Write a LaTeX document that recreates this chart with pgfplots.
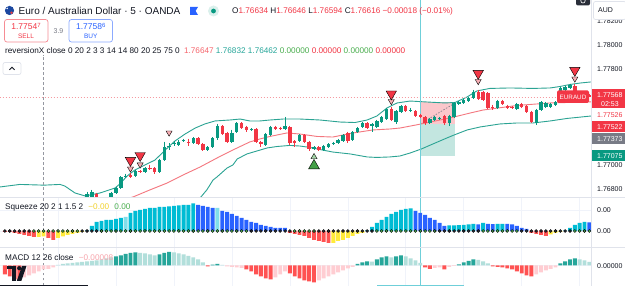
\documentclass[border=0pt]{standalone}
\usepackage{pgfplots}
\pgfplotsset{compat=1.18}
\usepackage{pgfplotstable}
\usepgfplotslibrary{fillbetween}
\usepackage{fontspec}
\setmainfont{Liberation Sans}

\definecolor{tvred}{HTML}{F23645}
\definecolor{tvgreen}{HTML}{089981}
\definecolor{tvblue}{HTML}{2962FF}
\definecolor{tvgray}{HTML}{787B86}
\definecolor{txt}{HTML}{131722}
\definecolor{gridc}{HTML}{F0F3FA}
\definecolor{sepc}{HTML}{E0E3EB}
\definecolor{bbline}{HTML}{2BA393}
\definecolor{bbfill}{HTML}{E3F3F1}
\definecolor{basisc}{HTML}{F4777F}
\definecolor{sqcyan}{HTML}{00BCD4}
\definecolor{sqlcyan}{HTML}{80DEEA}
\definecolor{sqblue}{HTML}{2962FF}
\definecolor{sqred}{HTML}{FF5252}
\definecolor{sqyellow}{HTML}{FFEB3B}
\definecolor{sqytext}{HTML}{F2D22E}
\definecolor{dotblack}{HTML}{2A2E39}
\definecolor{dotgreen}{HTML}{4CAF50}
\definecolor{mdark}{HTML}{26A69A}
\definecolor{mlight}{HTML}{B2DFDB}
\definecolor{mred}{HTML}{FF5252}
\definecolor{mpink}{HTML}{FFCDD2}
\definecolor{mpinktext}{HTML}{F7A6AD}
\definecolor{vteal}{HTML}{6FCFD9}
\definecolor{xhair}{HTML}{9598A1}
\definecolor{pricedash}{HTML}{F59AA1}
\definecolor{pinkfaint}{HTML}{F8AEB4}
\definecolor{greenfaint}{HTML}{A5D6A7}
\definecolor{siggreen}{HTML}{43A047}
\definecolor{bbtxt}{HTML}{26A69A}
\definecolor{flagblue}{HTML}{1C48A0}
\definecolor{flagred}{HTML}{DC3C46}
\definecolor{ringgreen}{HTML}{DAF0EC}
\definecolor{sellborder}{HTML}{F68C94}
\definecolor{buyborder}{HTML}{8CAAFF}
\definecolor{darkbtn}{HTML}{2A2E39}

\newcommand{\fs}[1]{\fontsize{#1}{#1}\selectfont}

% EURAUD 5-minute candles: index, open, high, low, close
\pgfplotstableread{
i o h l c
17 1.76733 1.76775 1.76717 1.76758
18 1.76733 1.76792 1.76725 1.76775
22 1.76733 1.76775 1.76717 1.76767
23 1.76767 1.76817 1.76758 1.76808
24 1.76808 1.76908 1.76800 1.76900
25 1.76900 1.76925 1.76892 1.76908
27 1.76908 1.76958 1.76900 1.76950
29 1.76942 1.76983 1.76933 1.76975
32 1.76942 1.77050 1.76933 1.77042
33 1.77042 1.77192 1.77033 1.77150
34 1.77150 1.77183 1.77125 1.77158
35 1.77179 1.77200 1.77158 1.77183
36 1.77167 1.77208 1.77158 1.77192
37 1.77200 1.77217 1.77192 1.77208
39 1.77183 1.77233 1.77175 1.77225
42 1.77125 1.77158 1.77117 1.77150
43 1.77150 1.77233 1.77142 1.77225
44 1.77225 1.77342 1.77208 1.77325
47 1.77192 1.77292 1.77183 1.77267
48 1.77275 1.77358 1.77267 1.77350
51 1.77296 1.77308 1.77283 1.77300
54 1.77167 1.77267 1.77158 1.77258
55 1.77250 1.77325 1.77242 1.77317
58 1.77300 1.77400 1.77292 1.77325
61 1.77200 1.77258 1.77192 1.77250
64 1.77133 1.77158 1.77125 1.77150
66 1.77125 1.77167 1.77117 1.77158
67 1.77150 1.77183 1.77142 1.77175
68 1.77179 1.77192 1.77167 1.77183
69 1.77183 1.77217 1.77175 1.77208
70 1.77200 1.77258 1.77192 1.77250
72 1.77208 1.77283 1.77200 1.77275
73 1.77275 1.77317 1.77267 1.77308
74 1.77317 1.77358 1.77308 1.77350
76 1.77325 1.77350 1.77275 1.77342
77 1.77317 1.77375 1.77308 1.77367
78 1.77358 1.77408 1.77350 1.77400
79 1.77383 1.77475 1.77375 1.77467
81 1.77358 1.77458 1.77342 1.77450
82 1.77442 1.77500 1.77433 1.77492
84 1.77454 1.77475 1.77442 1.77458
88 1.77350 1.77392 1.77342 1.77383
89 1.77375 1.77408 1.77367 1.77400
90 1.77388 1.77400 1.77375 1.77392
92 1.77350 1.77417 1.77325 1.77408
93 1.77400 1.77525 1.77392 1.77517
94 1.77508 1.77533 1.77500 1.77525
95 1.77517 1.77550 1.77508 1.77542
96 1.77533 1.77567 1.77525 1.77558
97 1.77558 1.77625 1.77550 1.77608
102 1.77475 1.77542 1.77467 1.77533
106 1.77467 1.77517 1.77458 1.77508
110 1.77350 1.77467 1.77333 1.77458
111 1.77458 1.77533 1.77450 1.77525
112 1.77483 1.77525 1.77475 1.77517
113 1.77483 1.77517 1.77475 1.77508
114 1.77500 1.77533 1.77492 1.77525
115 1.77525 1.77650 1.77517 1.77642
116 1.77625 1.77658 1.77617 1.77650
117 1.77642 1.77675 1.77633 1.77667
120 1.77567 1.77592 1.77558 1.77583
}\greencandles

\pgfplotstableread{
i o h l c
19 1.76758 1.76767 1.76717 1.76725
26 1.76917 1.76933 1.76892 1.76904
28 1.76950 1.76958 1.76933 1.76942
30 1.76975 1.77000 1.76958 1.76967
31 1.76975 1.76983 1.76925 1.76942
38 1.77192 1.77217 1.77158 1.77183
40 1.77225 1.77233 1.77167 1.77175
41 1.77175 1.77183 1.77117 1.77125
45 1.77325 1.77333 1.77250 1.77258
46 1.77267 1.77275 1.77183 1.77192
49 1.77350 1.77358 1.77300 1.77308
50 1.77317 1.77325 1.77275 1.77292
52 1.77300 1.77308 1.77183 1.77192
53 1.77192 1.77200 1.77150 1.77175
56 1.77317 1.77325 1.77292 1.77300
57 1.77308 1.77317 1.77292 1.77296
59 1.77317 1.77325 1.77167 1.77183
60 1.77200 1.77208 1.77150 1.77183
62 1.77250 1.77258 1.77183 1.77192
63 1.77192 1.77200 1.77117 1.77133
65 1.77150 1.77158 1.77117 1.77125
71 1.77267 1.77275 1.77183 1.77200
75 1.77350 1.77358 1.77300 1.77308
80 1.77467 1.77483 1.77367 1.77375
83 1.77492 1.77500 1.77442 1.77450
85 1.77450 1.77458 1.77400 1.77408
86 1.77417 1.77425 1.77392 1.77400
87 1.77400 1.77408 1.77333 1.77350
91 1.77408 1.77417 1.77333 1.77350
98 1.77608 1.77625 1.77542 1.77550
99 1.77608 1.77617 1.77533 1.77542
100 1.77600 1.77608 1.77467 1.77475
101 1.77483 1.77500 1.77458 1.77475
103 1.77533 1.77542 1.77500 1.77508
104 1.77492 1.77500 1.77467 1.77475
105 1.77483 1.77492 1.77467 1.77475
107 1.77508 1.77517 1.77475 1.77483
108 1.77492 1.77500 1.77433 1.77442
109 1.77442 1.77450 1.77350 1.77358
118 1.77658 1.77675 1.77583 1.77592
119 1.77592 1.77608 1.77558 1.77567
121 1.77583 1.77592 1.77567 1.77568
}\redcandles

% reversionX bands
\pgfplotstableread{
i v
-1.0 1.76817
3.1 1.76838
8.1 1.76832
11.4 1.76838
12.4 1.76825
14.5 1.76767
16.6 1.76742
19.7 1.76767
22.8 1.76808
23.8 1.76842
25.3 1.76908
26.9 1.76958
29.0 1.77000
31.1 1.77042
33.2 1.77125
35.2 1.77200
37.3 1.77258
39.4 1.77308
41.4 1.77342
43.5 1.77367
46.6 1.77375
48.7 1.77383
50.7 1.77367
52.8 1.77367
54.9 1.77375
57.6 1.77383
61.1 1.77383
65.2 1.77375
69.4 1.77358
72.5 1.77354
75.0 1.77375
77.0 1.77408
79.1 1.77475
81.2 1.77517
83.9 1.77533
87.4 1.77525
91.1 1.77517
93.2 1.77521
95.7 1.77567
97.7 1.77617
100.4 1.77638
104.6 1.77642
109.3 1.77638
112.9 1.77642
114.9 1.77654
117.0 1.77671
119.1 1.77683
121.3 1.77692
}\upperband

\pgfplotstableread{
i v
-1.0 1.76475
8.1 1.76462
19.7 1.76442
30.0 1.76500
36.0 1.76580
39.4 1.76667
40.4 1.76725
41.8 1.76792
43.1 1.76875
43.9 1.76900
46.0 1.76975
47.2 1.77000
48.1 1.77050
50.1 1.77092
52.2 1.77117
54.3 1.77142
56.3 1.77154
59.0 1.77163
61.1 1.77158
63.2 1.77146
65.2 1.77129
67.9 1.77108
71.5 1.77092
75.0 1.77067
77.0 1.77063
79.7 1.77067
81.8 1.77075
83.9 1.77100
86.2 1.77133
88.6 1.77175
91.5 1.77225
93.0 1.77250
95.7 1.77292
98.4 1.77317
102.5 1.77342
106.0 1.77350
109.3 1.77350
112.9 1.77367
116.4 1.77388
121.3 1.77408
}\lowerband

\pgfplotstableread{
i v
-1.0 1.76642
8.1 1.76647
19.7 1.76667
26.5 1.76733
30.0 1.76792
33.6 1.76850
36.9 1.76917
40.4 1.76983
43.9 1.77058
47.2 1.77125
50.7 1.77192
52.8 1.77217
54.9 1.77238
58.4 1.77267
61.1 1.77258
64.6 1.77238
67.9 1.77233
72.1 1.77267
76.2 1.77292
79.7 1.77300
81.8 1.77308
86.2 1.77342
90.1 1.77375
93.0 1.77400
96.3 1.77433
99.0 1.77458
106.0 1.77496
112.9 1.77517
121.3 1.77526
}\basisline

% Squeeze momentum histogram, split by colour
\pgfplotstableread{
i v
17 0.00005
18 0.0005
19 0.0009
20 0.0010
21 0.0011
22 0.0011
23 0.0012
24 0.0013
26 0.0018
27 0.0020
28 0.0021
29 0.0022
30 0.0023
31 0.0023
32 0.0024
33 0.0024
34 0.00245
35 0.0025
36 0.00255
37 0.0026
38 0.0026
39 0.00275
75 0.00005
76 0.0004
77 0.0008
78 0.0011
79 0.0014
80 0.0017
81 0.0019
82 0.0021
83 0.0022
84 0.00225
92 0.00055
93 0.00057
94 0.00058
95 0.0006
96 0.00065
97 0.0007
99 0.0008
102 0.0007
103 0.00072
116 0.00003
117 0.0003
118 0.0006
119 0.0008
120 0.0009
}\sqcyanT

\pgfplotstableread{
i v
25 0.0014
44 0.00232
}\sqlcyanT

\pgfplotstableread{
i v
40 0.0026
41 0.0025
42 0.0024
43 0.0023
45 0.0020
46 0.0019
47 0.0017
48 0.0015
49 0.0013
50 0.0011
51 0.0009
52 0.0008
53 0.0006
54 0.0005
55 0.0004
56 0.0003
57 0.0003
58 0.0003
85 0.0020
86 0.0018
87 0.0016
88 0.0013
89 0.0011
90 0.0008
91 0.0005
98 0.00065
100 0.0007
101 0.00068
104 0.0007
105 0.00065
106 0.0005
107 0.0003
108 0.0002
121 0.00087
}\sqblueT

\pgfplotstableread{
i v
0 -0.0001
1 -0.0001
2 -0.0002
3 -0.0003
4 -0.0004
5 -0.0005
6 -0.0006
9 -0.0007
10 -0.0009
59 -0.0002
60 -0.0003
61 -0.0004
62 -0.0005
63 -0.0007
64 -0.0009
65 -0.0010
66 -0.0011
67 -0.0012
109 -0.0002
110 -0.0003
111 -0.0004
112 -0.0005
}\sqredT

\pgfplotstableread{
i v
7 -0.0006
8 -0.00055
11 -0.0007
12 -0.00055
13 -0.0004
14 -0.0003
15 -0.0002
16 -0.0001
68 -0.00118
69 -0.0010
70 -0.0009
71 -0.0007
72 -0.0005
73 -0.0003
74 -0.0002
113 -0.00035
114 -0.0002
115 -0.0001
}\sqyellowT

% MACD histogram, split by colour
\pgfplotstableread{
i v
23 0.00018
24 0.00020
25 0.00023
26 0.00025
27 0.00026
32 0.00022
33 0.00025
34 0.00027
43 0.000016
44 0.00003
73 0.00003
74 0.00006
75 0.00008
77 0.00012
78 0.00016
79 0.00018
81 0.00018
82 0.00020
94 0.00002
95 0.00006
96 0.00009
97 0.00012
115 0.00004
116 0.00008
117 0.00012
118 0.00014
}\mdarkT

\pgfplotstableread{
i v
11 0.00001
12 0.00003
13 0.00004
14 0.00005
15 0.00006
16 0.00007
17 0.00008
18 0.00009
19 0.00010
20 0.00012
21 0.00014
22 0.00016
28 0.00025
29 0.00024
30 0.00022
31 0.00020
35 0.00026
36 0.00024
37 0.00022
38 0.00019
39 0.00016
40 0.00012
41 0.00006
45 0.00001
76 0.000076
80 0.00016
83 0.00018
84 0.00014
85 0.00010
86 0.00005
98 0.00011
99 0.00008
100 0.00004
119 0.00012
120 0.00010
121 0.00007
}\mlightT

\pgfplotstableread{
i v
0 -0.00018
1 -0.00022
2 -0.00028
3 -0.00030
42 -0.00002
50 -0.00008
51 -0.00012
52 -0.00018
53 -0.00022
54 -0.00026
55 -0.00028
59 -0.00016
60 -0.00022
61 -0.00026
62 -0.00030
63 -0.00032
64 -0.00034
87 -0.00004
88 -0.00007
91 -0.00008
101 -0.00002
102 -0.00003
103 -0.00004
104 -0.00006
105 -0.00008
106 -0.00012
107 -0.00016
108 -0.00020
109 -0.00022
}\mredT

\pgfplotstableread{
i v
4 -0.00024
5 -0.00020
6 -0.00016
7 -0.00012
8 -0.00008
9 -0.00007
10 -0.00004
46 -0.00002
47 -0.00003
48 -0.00004
49 -0.00005
56 -0.00024
57 -0.00018
58 -0.00012
65 -0.00030
66 -0.00026
67 -0.00022
68 -0.00018
69 -0.00014
70 -0.00010
71 -0.00006
72 -0.00003
89 -0.00005
90 -0.00004
92 -0.00003
93 -0.00001
110 -0.00018
111 -0.00014
112 -0.00010
113 -0.00007
114 -0.00004
}\mpinkT

\pgfplotsset{
  tvpane/.style={
    scale only axis, width=591pt,
    xmin=-1.0145, xmax=121.346,
    axis line style={draw=none}, tick style={draw=none},
    xtick={11,23,...,119}, xticklabels={}, yticklabels={},
    scaled y ticks=false, scaled x ticks=false,
    grid=major, major grid style={draw=gridc, line width=0.6pt},
    clip=true},
  candlewick/.style={only marks, mark=*, mark size=0pt, mark options={draw=none, fill=none},
    error bars/.cd, y dir=minus, y explicit, error mark=none,
    error bar style={line width=0.9pt, draw=#1}},
  candlebody/.style={only marks, mark=*, mark size=0pt, mark options={draw=none, fill=none},
    error bars/.cd, y dir=minus, y explicit, error mark=none,
    error bar style={line width=3.4pt, draw=#1}},
  histbar/.style={ybar, bar width=3.9pt, bar shift=0pt, draw=none, fill=#1},
}

\begin{document}
\begin{tikzpicture}
\fill[white] (0,0) rectangle (625pt,286pt);

% ---------- price pane ----------
\begin{axis}[tvpane, at={(0pt,89pt)}, anchor=south west, height=197pt,
  ymin=1.767333, ymax=1.78375,
  ytick={1.768,1.770,1.772,1.774,1.776,1.778,1.780,1.782}]
  \addplot[name path=up, draw=none, forget plot] table[x=i,y=v]{\upperband};
  \addplot[name path=lo, draw=none, forget plot] table[x=i,y=v]{\lowerband};
  \addplot[bbfill, draw=none] fill between[of=up and lo];
  % position tool
  \addplot[fill=tvred, fill opacity=0.28, draw=none] coordinates {(86,1.77522) (93.2,1.77522) (93.2,1.77342) (86,1.77342)} -- cycle;
  \addplot[fill=tvgreen, fill opacity=0.24, draw=none] coordinates {(86,1.77342) (93.2,1.77342) (93.2,1.77075) (86,1.77075)} -- cycle;
  \addplot[tvgray, line width=0.6pt, dash pattern=on 1.5pt off 1.5pt] coordinates {(86,1.77342) (93.2,1.77517)};
  % bands
  \addplot[bbline, line width=0.9pt] table[x=i,y=v]{\upperband};
  \addplot[bbline, line width=0.9pt] table[x=i,y=v]{\lowerband};
  \addplot[basisc, line width=0.9pt] table[x=i,y=v]{\basisline};
  % last price line
  \addplot[pricedash, line width=0.6pt, dash pattern=on 1.5pt off 1.5pt] coordinates {(-1.1,1.77568) (121.4,1.77568)};
  % vertical marker and crosshair
  \addplot[vteal, line width=0.8pt] coordinates {(86,1.760) (86,1.790)};
  \addplot[xhair, line width=0.6pt, dash pattern=on 2.5pt off 2.5pt] coordinates {(8,1.760) (8,1.77917)};
  % candles
  \addplot[candlewick=tvgreen] table[x=i, y=h, y error minus expr=\thisrow{h}-\thisrow{l}]{\greencandles};
  \addplot[candlewick=tvred] table[x=i, y=h, y error minus expr=\thisrow{h}-\thisrow{l}]{\redcandles};
  \addplot[candlebody=tvgreen] table[x=i, y=c, y error minus expr=\thisrow{c}-\thisrow{o}]{\greencandles};
  \addplot[candlebody=tvred] table[x=i, y=o, y error minus expr=\thisrow{o}-\thisrow{c}]{\redcandles};
  % signals
  \addplot[only marks, mark=triangle*, mark size=3.5pt, mark options={rotate=180, fill=pinkfaint, draw=none}]
    coordinates {(26,1.76969) (28,1.77003) (34,1.77269) (80,1.77531) (98,1.77698) (118,1.77719)};
  \addplot[only marks, mark=triangle*, mark size=6pt, mark options={rotate=180, fill=tvred, draw=none}]
    coordinates {(26,1.77038) (28,1.77079) (80,1.77592) (98,1.77763) (118,1.77788)};
  \addplot[only marks, mark=triangle*, mark size=3.5pt, mark options={fill=greenfaint, draw=none}]
    coordinates {(64,1.77067)};
  \addplot[only marks, mark=triangle*, mark size=6.3pt, mark options={fill=siggreen, draw=none}]
    coordinates {(64,1.76994)};
\end{axis}

% ---------- squeeze pane ----------
\begin{axis}[tvpane, at={(0pt,39pt)}, anchor=south west, height=49pt,
  ymin=-0.0016, ymax=0.0033, ytick={0,0.0021}]
  \addplot[vteal, line width=0.8pt] coordinates {(86,-0.01) (86,0.01)};
  \addplot[xhair, line width=0.6pt, dash pattern=on 2.5pt off 2.5pt] coordinates {(8,-0.01) (8,0.01)};
  \addplot[histbar=sqcyan] table[x=i,y=v]{\sqcyanT};
  \addplot[histbar=sqlcyan] table[x=i,y=v]{\sqlcyanT};
  \addplot[histbar=sqblue] table[x=i,y=v]{\sqblueT};
  \addplot[histbar=sqred] table[x=i,y=v]{\sqredT};
  \addplot[histbar=sqyellow] table[x=i,y=v]{\sqyellowT};
  \addplot[only marks, mark=*, mark size=1.5pt, mark options={fill=dotblack, draw=none}] coordinates {
    (0,0) (1,0) (2,0) (3,0) (4,0) (5,0) (16,0) (17,0) (18,0) (19,0)
    (51,0) (52,0) (53,0) (54,0) (55,0) (56,0) (57,0) (58,0) (59,0)
    (65,0) (66,0) (67,0) (68,0) (69,0) (70,0) (71,0) (72,0) (73,0) (74,0) (75,0) (76,0)
    (90,0) (91,0) (92,0) (93,0) (94,0) (95,0) (96,0) (97,0) (98,0)
    (107,0) (108,0) (109,0) (110,0) (111,0) (112,0) (113,0) (114,0) (115,0) (116,0) (117,0)};
  \addplot[only marks, mark=*, mark size=1.5pt, mark options={fill=dotgreen, draw=none}] coordinates {
    (6,0) (7,0) (8,0) (9,0) (10,0) (11,0) (12,0) (13,0) (14,0) (15,0)
    (20,0) (21,0) (22,0) (23,0) (24,0) (25,0) (26,0) (27,0) (28,0) (29,0) (30,0)
    (31,0) (32,0) (33,0) (34,0) (35,0) (36,0) (37,0) (38,0) (39,0) (40,0)
    (41,0) (42,0) (43,0) (44,0) (45,0) (46,0) (47,0) (48,0) (49,0) (50,0)
    (60,0) (61,0) (62,0) (63,0) (64,0)
    (77,0) (78,0) (79,0) (80,0) (81,0) (82,0) (83,0) (84,0) (85,0) (86,0) (87,0) (88,0) (89,0)
    (99,0) (100,0) (101,0) (102,0) (103,0) (104,0) (105,0) (106,0)
    (118,0) (119,0) (120,0) (121,0)};
\end{axis}

% ---------- MACD pane ----------
\begin{axis}[tvpane, at={(0pt,0pt)}, anchor=south west, height=39pt,
  ymin=-0.00041, ymax=0.00037, ytick={0}]
  \addplot[vteal, line width=0.8pt] coordinates {(86,-0.01) (86,0.01)};
  \addplot[xhair, line width=0.6pt, dash pattern=on 2.5pt off 2.5pt] coordinates {(8,-0.01) (8,0.01)};
  \addplot[histbar=mdark] table[x=i,y=v]{\mdarkT};
  \addplot[histbar=mlight] table[x=i,y=v]{\mlightT};
  \addplot[histbar=mred] table[x=i,y=v]{\mredT};
  \addplot[histbar=mpink] table[x=i,y=v]{\mpinkT};
\end{axis}

% ---------- chrome: legends, price scale, labels ----------
\begin{scope}[shift={(0pt,286pt)}, x=1pt, y=-1pt]
  \draw[sepc, line width=0.8pt] (0,197.5) -- (625,197.5);
  \draw[sepc, line width=0.8pt] (0,247.5) -- (625,247.5);
  \draw[sepc, line width=0.8pt] (591,0) -- (591,286);
  \fill[txt] (0,284.8) rectangle (88,286);
  \fill[vteal] (377,284.8) rectangle (464,286);

  % symbol header
  \fill[flagblue] (9.5,10.5) circle (4.6);
  \fill[flagred] (11.5,12.8) circle (1.4);
  \fill[white] (7.2,8.4) circle (0.9);
  \node[anchor=west, inner sep=0, font=\fs{10}, text=txt] at (18.5,11) {Euro / Australian Dollar · 5 · OANDA};
  \fill[tvblue] (190,7) -- (198,7) -- (195.6,11) -- (198,15) -- (190,15) -- cycle;
  \fill[ringgreen] (213.5,11) circle (5.5);
  \fill[tvgreen] (213.5,11) circle (2.4);
  \node[anchor=west, inner sep=0, font=\fs{8.2}, text=txt] at (232,11)
    {O\textcolor{tvred}{1.76634} H\textcolor{tvred}{1.76646} L\textcolor{tvred}{1.76594} C\textcolor{tvred}{1.76616} \textcolor{tvred}{−0.00018 (−0.01\%)}};

  % sell / buy
  \draw[sellborder, line width=0.7pt, fill=white, rounded corners=2.5pt] (4.5,19.5) rectangle (48,42);
  \node[font=\fs{8.5}, text=tvred, inner sep=0] at (26,26.5) {1.7754\raisebox{1.8pt}{\fs{6}7}};
  \node[font=\fs{6.5}, text=tvred, inner sep=0] at (26,36) {SELL};
  \node[font=\fs{7}, text=tvgray, inner sep=0] at (58.5,31) {3.9};
  \draw[buyborder, line width=0.7pt, fill=white, rounded corners=2.5pt] (69,19.5) rectangle (112.5,42);
  \node[font=\fs{8.5}, text=tvblue, inner sep=0] at (90.7,26.5) {1.7758\raisebox{1.8pt}{\fs{6}6}};
  \node[font=\fs{6.5}, text=tvblue, inner sep=0] at (90.7,36) {BUY};

  % indicator legends
  \node[anchor=west, inner sep=0, font=\fs{8.2}, text=txt] at (5,51)
    {reversionX close 0 20 2 3 3 14 14 80 20 25 75 0\hspace{2pt} \textcolor{basisc!85!red}{1.76647} \textcolor{bbtxt}{1.76832} \textcolor{bbtxt}{1.76462} \textcolor{dotgreen}{0.00000} \textcolor{tvred}{0.00000} \textcolor{dotgreen}{0.00000} \textcolor{tvred}{0.00000}};
  \draw[sepc, line width=0.7pt, fill=white, rounded corners=2pt] (3,62.5) rectangle (21,74.5);
  \draw[txt, line width=0.9pt] (9.5,69.8) -- (12,67.3) -- (14.5,69.8);
  \node[anchor=west, inner sep=0, font=\fs{8.2}, text=txt] at (5,207)
    {Squeeze 20 2 1 1.5 2\hspace{3pt} \textcolor{sqytext}{−0.00}\hspace{3pt} \textcolor{dotgreen}{0.00}};
  \node[anchor=west, inner sep=0, font=\fs{8.2}, text=txt] at (5,258)
    {MACD 12 26 close\hspace{3pt} \textcolor{mpinktext}{−0.00008}};

  % price scale
  \foreach \yy/\lab in {21.5/1.78200, 45/1.78000, 69/1.77800, 165/1.77000, 189/1.76800}
    \node[anchor=west, inner sep=0, font=\fs{7}, text=txt] at (597,\yy) {\lab};
  \draw[sepc, line width=0.7pt, fill=white, rounded corners=2pt] (593.5,1.5) rectangle (626,19.5);
  \node[anchor=west, inner sep=0, font=\fs{7}, text=txt] at (598,10.5) {AUD};
  \fill[darkbtn, rounded corners=2pt] (576,-4) rectangle (590,5.5);
  \draw[white, line width=0.6pt] (583,0.8) circle (2.2);

  \fill[tvred, rounded corners=1.5pt] (557,90.5) rectangle (589,103);
  \node[font=\fs{6.3}, text=white, inner sep=0] at (573,96.9) {EURAUD};
  \fill[tvred] (591.5,89.5) rectangle (625,108.5);
  \node[anchor=west, inner sep=0, font=\fs{7}, text=white] at (597,95.5) {1.77568};
  \node[anchor=west, inner sep=0, font=\fs{7}, text=white] at (601,103.8) {02:53};
  \fill[white] (591.5,110) rectangle (625,120.5);
  \node[anchor=west, inner sep=0, font=\fs{7}, text=tvred] at (597,115.3) {1.77526};
  \fill[tvred] (591.5,121.5) rectangle (625,132.5);
  \node[anchor=west, inner sep=0, font=\fs{7}, text=white] at (597,127) {1.77522};
  \fill[tvgray] (591.5,133.5) rectangle (625,144.5);
  \node[anchor=west, inner sep=0, font=\fs{7}, text=white] at (597,139) {1.77373};
  \fill[tvgreen] (591.5,150.5) rectangle (625,161.5);
  \node[anchor=west, inner sep=0, font=\fs{7}, text=white] at (597,156) {1.77075};

  \node[anchor=west, inner sep=0, font=\fs{7}, text=txt] at (597,210) {0.00};
  \node[anchor=west, inner sep=0, font=\fs{7}, text=txt] at (597,231) {0.00};
  \node[anchor=west, inner sep=0, font=\fs{7}, text=txt] at (597,266) {0.00000};

  % watermark logo
  \fill[txt] (7,266) rectangle (16,269.5);
  \fill[txt] (12.3,266) rectangle (16,281);
  \fill[txt] (19.2,268.2) circle (2.1);
  \fill[txt] (22,266) -- (26.5,266) -- (21.3,281) -- (16.8,281) -- cycle;
\end{scope}
\pgfresetboundingbox
\useasboundingbox (0,0) rectangle (625pt,286pt);
\end{tikzpicture}
\end{document}
